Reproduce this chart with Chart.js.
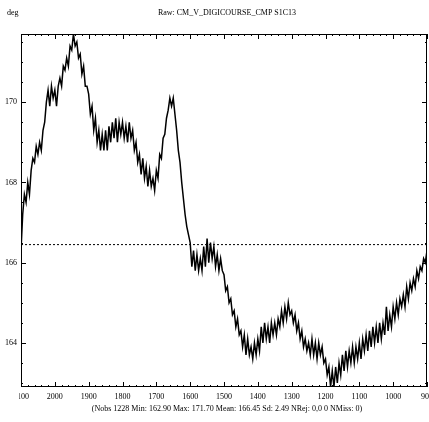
<!DOCTYPE html>
<html>
<head>
<meta charset="utf-8">
<script src="https://cdn.jsdelivr.net/npm/chart.js@4.4.0/dist/chart.umd.min.js"></script>
<style>
  html, body { margin: 0; padding: 0; background: #fff; }
  #wrap { width: 429px; height: 422px; }
</style>
</head>
<body>
<div id="wrap"><canvas id="rawChart" width="429" height="422"></canvas></div>
<script>
// samples run from 2100 down to 900, one every 5 units
const sampleStart = 2100;
const sampleStep = -5;

// values (deg)
const rawValues = [
  166.3, 167.2, 167.7, 167.5, 168.0, 167.7, 168.3, 168.6, 168.5, 168.9,
  168.7, 169.0, 168.8, 169.3, 169.5, 170.0, 170.3, 169.9, 170.4, 170.1,
  170.3, 169.9, 170.4, 170.6, 170.4, 170.9, 170.8, 171.1, 170.9, 171.4,
  171.3, 171.7, 171.4, 171.5, 171.1, 171.2, 170.7, 170.9, 170.4, 170.4,
  170.2, 169.7, 169.9, 169.3, 169.6, 169.0, 169.3, 168.8, 169.2, 168.8,
  169.3, 168.8, 169.4, 169.0, 169.5, 169.1, 169.6, 169.0, 169.5, 169.2,
  169.5, 169.1, 169.4, 169.0, 169.5, 169.1, 169.3, 168.8, 169.0, 168.5,
  168.7, 168.2, 168.6, 168.1, 168.4, 167.9, 168.3, 167.9, 168.1, 167.8,
  168.3, 168.1, 168.7, 168.6, 169.1, 169.2, 169.6, 169.8, 170.1, 169.9,
  170.1, 169.7, 169.3, 168.8, 168.5, 168.0, 167.6, 167.2, 166.9, 166.7,
  166.5, 165.9, 166.3, 165.8, 166.2, 165.8, 166.1, 165.8, 166.4, 165.9,
  166.6, 166.0, 166.5, 166.1, 166.4, 165.9, 166.2, 165.8, 166.1, 165.8,
  165.7, 165.3, 165.4, 165.0, 165.1, 164.7, 164.8, 164.4, 164.6, 164.2,
  164.3, 163.9, 164.2, 163.7, 164.1, 163.7, 163.9, 163.6, 164.0, 163.7,
  164.1, 163.8, 164.4, 164.0, 164.5, 164.1, 164.4, 164.0, 164.5, 164.2,
  164.5, 164.2, 164.6, 164.4, 164.8, 164.5, 164.9, 164.6, 165.0, 164.7,
  164.8, 164.5, 164.7, 164.3, 164.5, 164.1, 164.3, 163.9, 164.1, 163.8,
  164.0, 163.7, 164.1, 163.7, 164.0, 163.6, 164.0, 163.7, 163.9, 163.5,
  163.6, 163.2, 163.4, 162.9, 163.3, 162.9, 163.4, 163.0, 163.5, 163.2,
  163.7, 163.3, 163.8, 163.4, 163.8, 163.5, 163.9, 163.5, 163.9, 163.6,
  164.0, 163.6, 164.1, 163.8, 164.2, 163.8, 164.3, 163.9, 164.4, 164.0,
  164.4, 164.0, 164.5, 164.1, 164.5, 164.2, 164.9, 164.3, 164.7, 164.4,
  164.9, 164.6, 165.0, 164.7, 165.1, 164.9, 165.2, 164.9, 165.4, 165.1,
  165.5, 165.3, 165.6, 165.4, 165.8, 165.6, 165.9, 165.8, 166.1, 166.0,
  166.3
];

const meanValue = 166.45;
const xRange = [900, 2100];
const yRange = [162.9, 171.7];
const xTickLabels = [2100, 2000, 1900, 1800, 1700, 1600, 1500, 1400, 1300, 1200, 1100, 1000, 900];
const yTickLabels = [164, 166, 168, 170];
const xMinorStep = 20;
const yMinorStep = 0.5;

const titleText = "Raw: CM_V_DIGICOURSE_CMP S1C13";
const unitText = "deg";
const footerText = "(Nobs 1228 Min: 162.90 Max: 171.70 Mean: 166.45 Sd: 2.49 NRej: 0,0 0 NMiss: 0)";

const points = rawValues.map((v, i) => ({ x: sampleStart + i * sampleStep, y: v }));
const meanPoints = [{ x: xRange[1], y: meanValue }, { x: xRange[0], y: meanValue }];

const FONT = "8px 'Liberation Serif', 'DejaVu Serif', serif";

// box, inward ticks and all the text
const framePlugin = {
    id: "frame",
    afterDraw(chart) {
        const { ctx, chartArea: a } = chart;
        const xs = chart.scales.x, ys = chart.scales.y;
        ctx.save();
        ctx.strokeStyle = "#000";
        ctx.lineWidth = 1;
        ctx.strokeRect(a.left + 0.5, a.top + 0.5, a.right - a.left - 1, a.bottom - a.top - 1);

        ctx.beginPath();
        for (let v = xRange[0]; v <= xRange[1]; v += xMinorStep) {
            const px = Math.round(xs.getPixelForValue(v)) + 0.5;
            const len = v % 100 === 0 ? 5 : 2;
            ctx.moveTo(px, a.bottom); ctx.lineTo(px, a.bottom - len);
            ctx.moveTo(px, a.top); ctx.lineTo(px, a.top + len);
        }
        const first = Math.ceil(yRange[0] / yMinorStep), last = Math.floor(yRange[1] / yMinorStep);
        for (let k = first; k <= last; k++) {
            const v = k * yMinorStep;
            const py = Math.round(ys.getPixelForValue(v)) + 0.5;
            const len = v % 2 === 0 ? 5 : 2;
            ctx.moveTo(a.left, py); ctx.lineTo(a.left + len, py);
            ctx.moveTo(a.right, py); ctx.lineTo(a.right - len, py);
        }
        ctx.stroke();

        ctx.fillStyle = "#000";
        ctx.font = FONT;

        // x labels, clipped like the original at the left of the box
        ctx.save();
        ctx.beginPath();
        ctx.rect(a.left - 2, a.bottom, chart.width, 30);
        ctx.clip();
        ctx.textAlign = "center";
        ctx.textBaseline = "middle";
        xTickLabels.forEach(v => {
            ctx.fillText(String(v), xs.getPixelForValue(v), a.bottom + 10);
        });
        ctx.restore();

        ctx.textAlign = "right";
        ctx.textBaseline = "middle";
        yTickLabels.forEach(v => {
            ctx.fillText(String(v), a.left - 4, ys.getPixelForValue(v));
        });

        ctx.textAlign = "left";
        ctx.fillText(unitText, 7, 13);
        ctx.textAlign = "center";
        ctx.fillText(titleText, (a.left + a.right) / 2 + 3, 13);
        ctx.fillText(footerText, (a.left + a.right) / 2 + 3, 409);
        ctx.restore();
    }
};

const rawChart = new Chart(document.getElementById("rawChart").getContext("2d"), {
    type: "line",
    data: {
        datasets: [
            { data: points, borderColor: "#000", borderWidth: 1.5, pointRadius: 0, tension: 0 },
            { data: meanPoints, borderColor: "#000", borderWidth: 1, borderDash: [2, 2], pointRadius: 0 }
        ]
    },
    options: {
        responsive: false,
        animation: false,
        devicePixelRatio: 1,
        layout: { padding: { left: 21, right: 2, top: 34, bottom: 35 } },
        plugins: { legend: { display: false }, tooltip: { enabled: false } },
        scales: {
            x: { type: "linear", reverse: true, min: xRange[0], max: xRange[1], display: false },
            y: { type: "linear", min: yRange[0], max: yRange[1], display: false }
        }
    },
    plugins: [framePlugin]
});
</script>
</body>
</html>
